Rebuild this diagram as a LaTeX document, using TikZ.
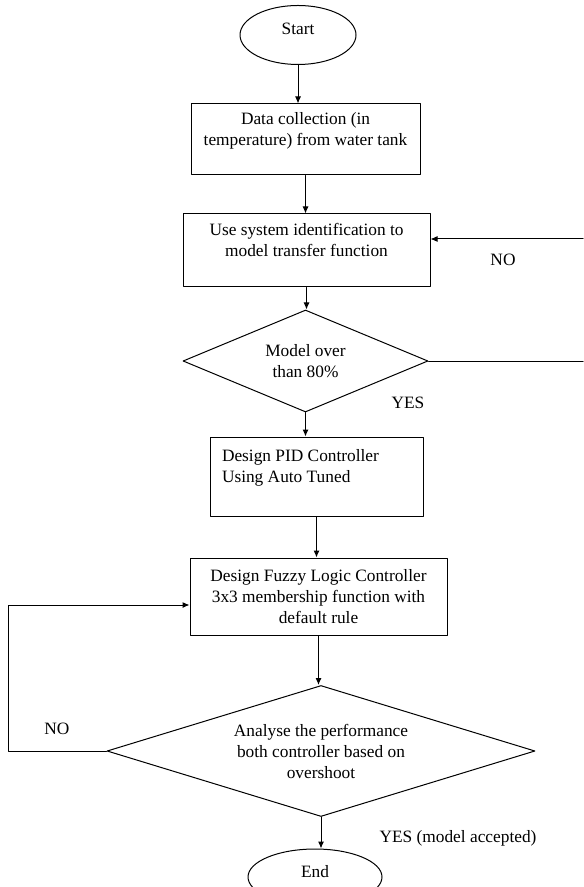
\documentclass[tikz,border=0pt]{standalone}
\usepackage{fontspec}
\setmainfont{Liberation Serif}
\usetikzlibrary{shapes.geometric,arrows.meta}
\newlength{\px}
\setlength{\px}{0.75pt}
\begin{document}
\begin{tikzpicture}[x=\px, y=-\px, line width=0.75pt, line cap=round, line join=round,
		font=\fontsize{13}{15.75}\selectfont,
		>={Latex[length=5.25pt,width=4.5pt]},
		procbox/.style={draw, rectangle, align=center, inner sep=1.5pt},
		termnode/.style={draw, ellipse, inner sep=0pt, text depth=9pt},
		decision/.style={draw, diamond, align=center, inner sep=0pt}]
	\useasboundingbox (0,0) rectangle (583,887);
	% main column
	\node[termnode, minimum width=116\px, minimum height=59\px] (start) at (298,35) {Start};
	\node[procbox, minimum width=229\px, minimum height=71\px] (data) at (305.5,139.5)
		{Data collection (in\\temperature) from water tank\\~};
	\node[procbox, minimum width=247\px, minimum height=73\px] (sysid) at (306.5,250.5)
		{Use system identification to\\model transfer function\\~};
	\node[decision, minimum width=245\px, minimum height=102\px, aspect=2.4] (check) at (305.5,361)
		{Model over\\than 80\%};
	\node[procbox, align=flush left, text width=189\px, inner xsep=12\px, minimum height=79\px] (pid) at (316.5,476.5)
		{Design PID Controller\\Using Auto Tuned\\~};
	\node[procbox, minimum width=257\px, minimum height=77\px] (fuzzy) at (318.5,596.5)
		{Design Fuzzy Logic Controller\\3x3 membership function with\\default rule};
	\node[decision, minimum width=428\px, minimum height=131\px, aspect=3.2] (perf) at (321,751)
		{Analyse the performance\\both controller based on\\overshoot};
	\node[termnode, minimum width=134\px, minimum height=56\px] (end) at (315,877) {End};
	% labels
	\node (noA) at (503,260) {NO};
	\node (yesA) at (408,403) {YES};
	\node (noB) at (57,729) {NO};
	\node (yesB) at (458,838) {YES (model accepted)};
	% free ends of the loops
	\coordinate (rightA) at (583,361);
	\coordinate (rightB) at (583,239);
	\coordinate (leftA) at (8,605);
	% arrows
	\draw[->] (start.south) -- (start.south |- data.north);
	\draw[->] (data.south) -- (data.south |- sysid.north);
	\draw[->] (sysid.south) -- (sysid.south |- check.north);
	\draw[->] (check.south) -- (check.south |- pid.north);
	\draw[->] (pid.south) -- (pid.south |- fuzzy.north);
	\draw[->] (fuzzy.south) -- (fuzzy.south |- perf.north);
	\draw[->] (perf.south) -- (perf.south |- end.north);
	\draw (check.east) -- (rightA);
	\draw[->] (rightB) -- (rightB -| sysid.east);
	\draw[->] (perf.west) -| (leftA) -- (leftA -| fuzzy.west);
\end{tikzpicture}
\end{document}
